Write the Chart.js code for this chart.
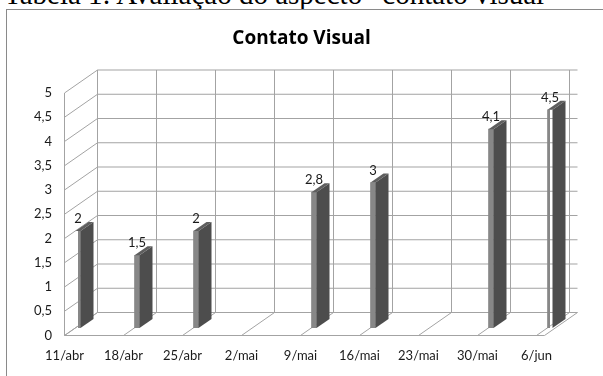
<!DOCTYPE html>
<html>
<head>
<meta charset="utf-8">
<script src="https://cdn.jsdelivr.net/npm/chart.js@4/dist/chart.umd.min.js"></script>
<style>
  html, body { margin: 0; padding: 0; background: #fff; overflow: hidden; width: 603px; height: 376px; }
  #caption { position: absolute; left: 4px; top: -20px; font: 29px "Liberation Serif", serif; line-height: 29px; white-space: nowrap; color: #000; }
  #frame { position: absolute; left: 6px; top: 9px; width: 720px; height: 520px; border: 1px solid #8a8a8a; box-sizing: border-box; background: #fff; }
  #wrap { position: absolute; left: 0; top: 0; width: 603px; height: 376px; }
</style>
</head>
<body>
<div id="caption">Tabela 1: Avaliação do aspecto “contato visual”</div>
<div id="frame"></div>
<div id="wrap"><canvas id="c" width="603" height="376"></canvas></div>
<script>
// Weekly scores for "Contato Visual"
const categories = ['11/abr', '18/abr', '25/abr', '2/mai', '9/mai', '16/mai', '23/mai', '30/mai', '6/jun'];
const scores = [2, 1.5, 2, null, 2.8, 3, null, 4.1, 4.5];
const yTickLabels = ['0', '0,5', '1', '1,5', '2', '2,5', '3', '3,5', '4', '4,5', '5'];

// Oblique 3D look: wall depth, bar position inside the depth, bar side depth
const WALL = { dx: 33, dy: -23 };
const BAR_SHIFT = { dx: 13.5, dy: -7.5 };
const BAR_SIDE = { dx: 13, dy: -9 };
const FLOOR_EXTRA = 8;
const GRID_COLOR = '#a3a3a3';
const FONT = 'Lato';

function fmt(v) { return String(v).replace('.', ','); }

function line(ctx, x1, y1, x2, y2) {
  ctx.beginPath();
  ctx.moveTo(x1, y1);
  ctx.lineTo(x2, y2);
  ctx.stroke();
}

const walls3d = {
  id: 'walls3d',
  beforeDatasetsDraw(chart) {
    const { ctx, chartArea: a } = chart;
    const xs = chart.scales.x, ys = chart.scales.y;
    const y0 = ys.getPixelForValue(0);
    const yTop = ys.getPixelForValue(5);
    ctx.save();
    ctx.strokeStyle = GRID_COLOR;
    ctx.lineWidth = 1;
    // back wall horizontal grid + left wall diagonals
    ys.ticks.forEach(t => {
      const y = ys.getPixelForValue(t.value);
      line(ctx, a.left + WALL.dx, y + WALL.dy, a.right + WALL.dx + FLOOR_EXTRA, y + WALL.dy);
      line(ctx, a.left, y, a.left + WALL.dx, y + WALL.dy);
    });
    // back wall verticals at category positions
    categories.forEach((c, i) => {
      const x = xs.getPixelForValue(i) + WALL.dx;
      line(ctx, x, y0 + WALL.dy, x, yTop + WALL.dy);
    });
    // left wall front edge
    line(ctx, a.left, yTop, a.left, y0);
    // floor
    line(ctx, a.left, y0, a.right + FLOOR_EXTRA, y0);
    line(ctx, a.right + FLOOR_EXTRA, y0, a.right + FLOOR_EXTRA + WALL.dx, y0 + WALL.dy);
    categories.forEach((c, i) => {
      const x = xs.getPixelForValue(i);
      line(ctx, x, y0, x + WALL.dx, y0 + WALL.dy);
    });
    ctx.restore();
    // bars' front faces are drawn by Chart.js, pushed into the depth
    ctx.save();
    ctx.translate(BAR_SHIFT.dx, BAR_SHIFT.dy);
  },
  afterDatasetsDraw(chart) {
    const { ctx } = chart;
    ctx.restore();
    const meta = chart.getDatasetMeta(0);
    ctx.save();
    meta.data.forEach((el, i) => {
      const v = scores[i];
      if (v === null || v === undefined) return;
      const p = el.getProps(['x', 'y', 'base', 'width'], true);
      const l = p.x - p.width / 2 + BAR_SHIFT.dx;
      const r = p.x + p.width / 2 + BAR_SHIFT.dx;
      const t = p.y + BAR_SHIFT.dy;
      const b = p.base + BAR_SHIFT.dy;
      // side face
      ctx.fillStyle = '#4d4d4d';
      ctx.beginPath();
      ctx.moveTo(r, t);
      ctx.lineTo(r + BAR_SIDE.dx, t + BAR_SIDE.dy);
      ctx.lineTo(r + BAR_SIDE.dx, b + BAR_SIDE.dy);
      ctx.lineTo(r, b);
      ctx.closePath();
      ctx.fill();
      // top face
      ctx.fillStyle = '#5e5e5e';
      ctx.beginPath();
      ctx.moveTo(l, t);
      ctx.lineTo(r, t);
      ctx.lineTo(r + BAR_SIDE.dx, t + BAR_SIDE.dy);
      ctx.lineTo(l + BAR_SIDE.dx, t + BAR_SIDE.dy);
      ctx.closePath();
      ctx.fill();
      // value label
      ctx.fillStyle = '#1a1a1a';
      ctx.font = '13px ' + FONT;
      ctx.textAlign = 'center';
      ctx.textBaseline = 'alphabetic';
      ctx.fillText(fmt(v), (l + r) / 2, t - 8);
    });
    ctx.restore();
  }
};

new Chart(document.getElementById('c'), {
  type: 'bar',
  data: {
    labels: categories,
    datasets: [{
      data: scores,
      backgroundColor: '#878787',
      borderWidth: 0,
      barThickness: 5
    }]
  },
  options: {
    responsive: false,
    animation: false,
    layout: { padding: 0 },
    plugins: {
      legend: { display: false },
      tooltip: { enabled: false },
      title: {
        display: true,
        text: 'Contato Visual',
        color: '#000',
        font: { family: 'Open Sans', size: 19, weight: 'bold' },
        padding: { top: 27.5, bottom: 42.7 }
      }
    },
    scales: {
      x: {
        type: 'category',
        offset: false,
        grid: { display: false, drawTicks: false },
        border: { display: false },
        ticks: { color: '#1a1a1a', font: { family: FONT, size: 13 }, padding: 13, maxRotation: 0, autoSkip: false },
        afterFit(s) { s.height = 40.5; }
      },
      y: {
        min: 0,
        max: 5,
        grid: { display: false, drawTicks: false },
        border: { display: false },
        ticks: {
          stepSize: 0.5,
          color: '#1a1a1a',
          font: { family: FONT, size: 13 },
          padding: 12.5,
          callback: (v, i) => yTickLabels[i]
        },
        afterFit(s) { s.width = 64.5; }
      },
      yRight: {
        position: 'right',
        display: true,
        grid: { display: false, drawTicks: false },
        border: { display: false },
        ticks: { display: false },
        afterFit(s) { s.width = 66.5; }
      }
    }
  },
  plugins: [walls3d]
});
</script>
</body>
</html>
